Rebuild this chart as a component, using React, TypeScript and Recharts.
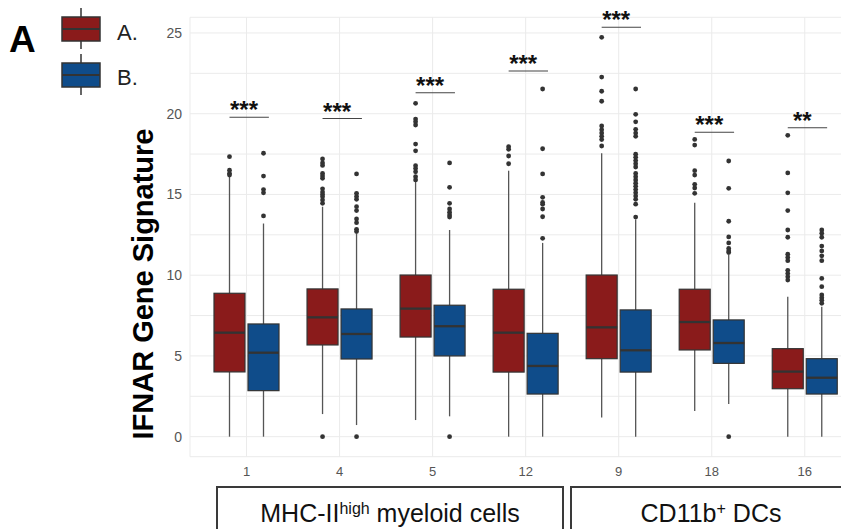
import React from "react"
import { BarChart, Bar, XAxis, YAxis, CartesianGrid } from "recharts"

const groups = ["1", "4", "5", "12", "9", "18", "16"]

const lowA = [0, 1.4, 1.03, 0, 1.18, 1.59, 0]
const q1A = [4.01, 5.68, 6.17, 4.0, 4.83, 5.37, 2.97]
const medA = [6.44, 7.39, 7.93, 6.44, 6.77, 7.1, 4.03]
const q3A = [8.88, 9.15, 10.01, 9.13, 10.01, 9.13, 5.45]
const highA = [16.1, 14.24, 15.8, 16.47, 17.55, 14.49, 8.67]

const lowB = [0, 0.72, 1.26, 0, 0, 2.02, 0]
const q1B = [2.85, 4.81, 5.0, 2.64, 4.0, 4.54, 2.64]
const medB = [5.2, 6.36, 6.84, 4.38, 5.35, 5.8, 3.65]
const q3B = [6.98, 7.91, 8.14, 6.4, 7.85, 7.23, 4.83]
const highB = [13.2, 12.55, 12.8, 12.0, 13.45, 11.25, 8.05]

const outA = [
  [17.34, 16.5, 16.3, 16.2],
  [17.2, 16.95, 16.8, 16.3, 16.15, 16.0, 15.35, 15.15, 15.0, 14.85, 14.65, 14.45, 0],
  [20.64, 19.67, 19.5, 19.3, 18.12, 17.7, 16.78, 16.6, 16.4, 16.1, 15.9],
  [17.96, 17.8, 17.38, 16.9],
  [24.73, 22.27, 21.39, 20.77, 19.24, 19.0, 18.8, 18.6, 18.4, 18.0],
  [18.41, 18.06, 16.47, 16.2, 15.63, 15.4, 15.07],
  [18.66, 16.33, 15.1, 14.0, 12.8, 12.35, 11.3, 11.1, 10.9, 10.3, 10.1, 9.9, 9.7],
]

const outB = [
  [17.55, 16.14, 15.3, 15.1, 13.67],
  [16.27, 15.07, 14.88, 14.7, 14.24, 14.0, 13.48, 13.25, 12.84, 12.7, 0],
  [16.95, 15.44, 14.45, 14.1, 13.9, 13.73, 13.6, 0],
  [21.53, 17.83, 16.27, 14.82, 14.5, 14.4, 14.1, 13.62, 12.28],
  [21.53, 19.96, 19.5, 19.03, 18.8, 18.6, 17.49, 17.3, 17.1, 16.9, 16.7, 16.3, 16.1, 15.9, 15.7, 15.5, 15.3, 15.1, 14.9, 14.7, 14.4, 13.6],
  [17.07, 15.38, 13.34, 12.37, 12.0, 11.66, 11.5, 11.4, 0],
  [12.8, 12.6, 12.35, 11.8, 11.5, 11.2, 10.9, 9.8, 9.29, 8.78, 8.6, 8.45, 8.26],
]

const sigY = [19.78, 19.7, 21.3, 22.64, 25.35, 18.85, 19.13]
const sigLabel = ["***", "***", "***", "***", "***", "***", "**"]

const yTicks = [0, 2.5, 5, 7.5, 10, 12.5, 15, 17.5, 20, 22.5, 25]

const RED = "#8a1b1b"
const BLUE = "#0f4c8a"

const rows = groups.map((g, i) => ({
  group: g,
  aRange: [lowA[i], highA[i]],
  bRange: [lowB[i], highB[i]],
  a: { low: lowA[i], q1: q1A[i], med: medA[i], q3: q3A[i], high: highA[i], out: outA[i] },
  b: { low: lowB[i], q1: q1B[i], med: medB[i], q3: q3B[i], high: highB[i], out: outB[i] },
  sigY: sigY[i],
  sig: sigLabel[i],
}))

function makeBox(key: "a" | "b", fill: string) {
  return (props: any) => {
    const { x, y, width, height, payload } = props
    const s = payload[key]
    // map a value to pixels using the bar's own scaled extent [low, high]
    const pix = (v: number) => y + ((s.high - v) / (s.high - s.low)) * height
    const cx = x + width / 2
    return (
      <g>
        <line x1={cx} x2={cx} y1={pix(s.high)} y2={pix(s.q3)} stroke="#555" strokeWidth={1.3} />
        <line x1={cx} x2={cx} y1={pix(s.q1)} y2={pix(s.low)} stroke="#555" strokeWidth={1.3} />
        <rect x={x} y={pix(s.q3)} width={width} height={pix(s.q1) - pix(s.q3)} fill={fill} stroke="#333" strokeWidth={1.2} />
        <line x1={x} x2={x + width} y1={pix(s.med)} y2={pix(s.med)} stroke="#333" strokeWidth={2.3} />
        {s.out.map((v: number, j: number) => (
          <circle key={j} cx={cx} cy={pix(v)} r={2.4} fill="#333" />
        ))}
        {key === "a" && (
          <g>
            <line x1={cx} x2={cx + width * 1.27} y1={pix(payload.sigY)} y2={pix(payload.sigY)} stroke="#444" strokeWidth={1.1} />
            <text x={cx + width * 0.63 - 5} y={pix(payload.sigY) + 1} textAnchor="middle" fontSize={24} fontWeight="bold" fill="#111">
              {payload.sig}
            </text>
          </g>
        )}
      </g>
    )
  }
}

const boxA = makeBox("a", RED)
const boxB = makeBox("b", BLUE)

function LegendKey({ top, fill }: { top: number; fill: string }) {
  return (
    <g>
      <line x1={81} x2={81} y1={top - 9} y2={top + 32} stroke="#333" strokeWidth={1.5} />
      <rect x={62} y={top} width={38} height={24} fill={fill} stroke="#333" strokeWidth={1.5} />
      <line x1={62} x2={100} y1={top + 12} y2={top + 12} stroke="#333" strokeWidth={2} />
    </g>
  )
}

const groupBox: React.CSSProperties = {
  position: "absolute",
  top: 486,
  height: 60,
  border: "2px solid #3a3a3a",
  boxSizing: "border-box",
  textAlign: "center",
  fontSize: 25,
  color: "#111",
  paddingTop: 6,
  lineHeight: "30px",
}

export default function App() {
  return (
    <div
      style={{
        position: "absolute",
        left: 0,
        top: 0,
        width: 841,
        height: 529,
        overflow: "hidden",
        background: "#fff",
        fontFamily: "'Liberation Sans', Arial, sans-serif",
      }}
    >
      <BarChart
        width={880}
        height={529}
        data={rows}
        margin={{ top: 17.3, right: 19.4, bottom: 42.3, left: 0 }}
        barSize={31}
        barGap={3}
      >
        <CartesianGrid stroke="#ebebeb" strokeWidth={1} />
        <XAxis
          dataKey="group"
          axisLine={false}
          tickLine={false}
          interval={0}
          height={30}
          padding={{ left: 10, right: 9.3 }}
          tickMargin={4}
          tick={{ fill: "#555", fontSize: 13 }}
        />
        <YAxis
          type="number"
          domain={[-1.24, 25.97]}
          ticks={yTicks}
          interval={0}
          tickFormatter={(v: number) => (v % 5 === 0 ? String(v) : "")}
          axisLine={false}
          tickLine={false}
          width={190}
          tick={{ fill: "#555", fontSize: 14 }}
        />
        <Bar dataKey="aRange" shape={boxA} isAnimationActive={false} />
        <Bar dataKey="bRange" shape={boxB} isAnimationActive={false} />
      </BarChart>

      <svg width={841} height={529} style={{ position: "absolute", left: 0, top: 0, pointerEvents: "none" }}>
        <text x={9} y={52} fontSize={37} fontWeight="bold" fill="#000">A</text>
        <LegendKey top={17} fill={RED} />
        <LegendKey top={63} fill={BLUE} />
        <text x={117} y={40} fontSize={22} fill="#222">A.</text>
        <text x={117} y={85} fontSize={22} fill="#222">B.</text>
        <text
          x={153}
          y={284}
          transform="rotate(-90, 153, 284)"
          textAnchor="middle"
          fontSize={29}
          fontWeight="bold"
          fill="#000"
        >
          IFNAR Gene Signature
        </text>
      </svg>

      <div style={{ ...groupBox, left: 216, width: 348 }}>
        MHC-II<sup style={{ fontSize: 16, verticalAlign: "8px" }}>high</sup> myeloid cells
      </div>
      <div style={{ ...groupBox, left: 570, width: 282 }}>
        CD11b<sup style={{ fontSize: 16, verticalAlign: "8px" }}>+</sup> DCs
      </div>
    </div>
  )
}
